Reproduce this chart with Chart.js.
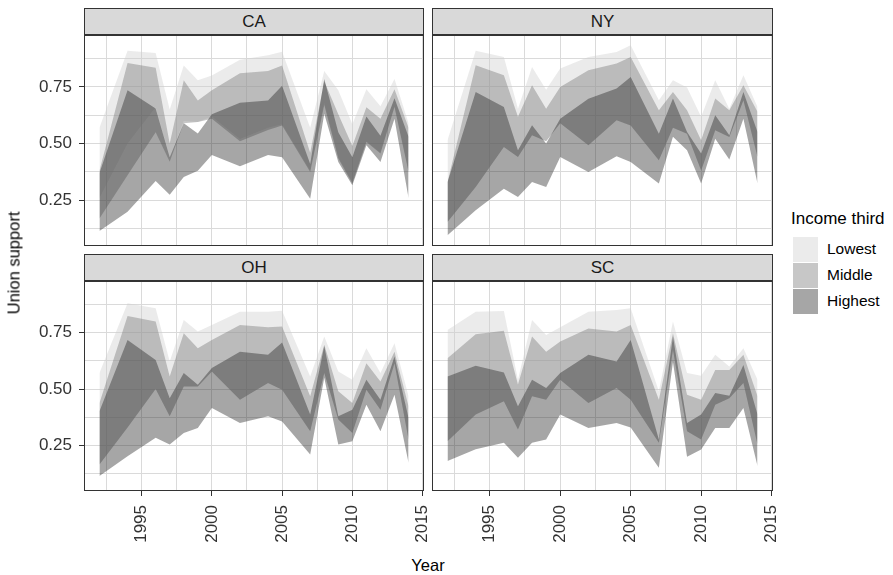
<!DOCTYPE html>
<html>
<head>
<meta charset="utf-8">
<script src="https://cdn.jsdelivr.net/npm/chart.js@4.4.1/dist/chart.umd.min.js"></script>
<style>
  html, body { margin: 0; padding: 0; background: #fff; }
  #fig { position: relative; width: 893px; height: 575px; overflow: hidden;
         font-family: "Liberation Sans", Arial, sans-serif; color: #000; }
  #fig canvas { position: absolute; }
  .strip { position: absolute; box-sizing: border-box; background: #d9d9d9;
           border: 1px solid #333; font-size: 17px; color: #1a1a1a;
           text-align: center; line-height: 25px; height: 27px; }
  .title { position: absolute; font-size: 16.5px; white-space: nowrap; color: #000; }
  .key { position: absolute; width: 25px; height: 25px; }
  .klab { position: absolute; font-size: 15.5px; white-space: nowrap; line-height: 18px; }
</style>
</head>
<body>
<div id="fig">
  <canvas id="pCA" width="440" height="211" style="left:0;top:35px"></canvas>
  <canvas id="pNY" width="364" height="211" style="left:424px;top:35px"></canvas>
  <canvas id="pOH" width="440" height="270" style="left:0;top:281px"></canvas>
  <canvas id="pSC" width="364" height="270" style="left:424px;top:281px"></canvas>

  <div class="strip" style="left:84px;top:8px;width:340px">CA</div>
  <div class="strip" style="left:432px;top:8px;width:341px">NY</div>
  <div class="strip" style="left:84px;top:254px;width:340px">OH</div>
  <div class="strip" style="left:432px;top:254px;width:341px">SC</div>

  <div class="title" style="left:14px;top:263px;transform:translate(-50%,-50%) rotate(-90deg)">Union support</div>
  <div class="title" style="left:428px;top:565px;transform:translate(-50%,-50%)">Year</div>

  <div class="title" style="left:791px;top:209px;font-size:17px">Income third</div>
  <div class="key" id="kLow" style="left:793px;top:237px"></div>
  <div class="key" id="kMid" style="left:793px;top:263px"></div>
  <div class="key" id="kHigh" style="left:793px;top:289px"></div>
  <div class="klab" style="left:827px;top:240px">Lowest</div>
  <div class="klab" style="left:827px;top:266px">Middle</div>
  <div class="klab" style="left:827px;top:292px">Highest</div>
</div>

<script>
// Survey years
const years = [1992, 1994, 1996, 1997, 1998, 1999, 2000, 2002, 2004, 2005, 2007, 2008, 2009, 2010, 2011, 2012, 2013, 2014];

// California: lower / upper bounds of union support per income third
const caLowestLo  = [0.26, 0.50, 0.66, 0.44, 0.60, 0.595, 0.62, 0.52, 0.57, 0.585, 0.38, 0.68, 0.44, 0.33, 0.51, 0.46, 0.665, 0.38];
const caLowestHi  = [0.57, 0.91, 0.90, 0.65, 0.845, 0.78, 0.80, 0.87, 0.89, 0.905, 0.57, 0.82, 0.735, 0.585, 0.74, 0.665, 0.785, 0.59];
const caMiddleLo  = [0.17, 0.36, 0.55, 0.42, 0.59, 0.595, 0.61, 0.51, 0.56, 0.58, 0.375, 0.67, 0.434, 0.324, 0.507, 0.456, 0.662, 0.375];
const caMiddleHi  = [0.38, 0.855, 0.835, 0.50, 0.78, 0.69, 0.735, 0.81, 0.82, 0.845, 0.46, 0.775, 0.63, 0.49, 0.66, 0.61, 0.74, 0.57];
const caHighestLo = [0.115, 0.20, 0.335, 0.275, 0.353, 0.38, 0.45, 0.40, 0.45, 0.44, 0.257, 0.632, 0.419, 0.316, 0.493, 0.419, 0.61, 0.26];
const caHighestHi = [0.37, 0.735, 0.655, 0.44, 0.59, 0.545, 0.63, 0.68, 0.69, 0.755, 0.41, 0.785, 0.55, 0.44, 0.62, 0.535, 0.70, 0.53];

// New York
const nyLowestLo  = [0.154, 0.309, 0.485, 0.441, 0.537, 0.51, 0.59, 0.493, 0.603, 0.58, 0.427, 0.57, 0.544, 0.382, 0.559, 0.529, 0.691, 0.441];
const nyLowestHi  = [0.515, 0.909, 0.882, 0.654, 0.838, 0.738, 0.831, 0.882, 0.904, 0.934, 0.691, 0.779, 0.747, 0.618, 0.779, 0.654, 0.801, 0.662];
const nyMiddleLo  = [0.154, 0.309, 0.485, 0.441, 0.537, 0.51, 0.59, 0.493, 0.603, 0.58, 0.427, 0.57, 0.544, 0.382, 0.559, 0.529, 0.691, 0.441];
const nyMiddleHi  = [0.33, 0.846, 0.801, 0.618, 0.757, 0.654, 0.75, 0.824, 0.853, 0.882, 0.647, 0.728, 0.647, 0.515, 0.699, 0.647, 0.757, 0.64];
const nyHighestLo = [0.096, 0.206, 0.301, 0.265, 0.331, 0.309, 0.441, 0.375, 0.444, 0.419, 0.324, 0.53, 0.471, 0.324, 0.522, 0.43, 0.61, 0.324];
const nyHighestHi = [0.33, 0.728, 0.662, 0.471, 0.581, 0.50, 0.61, 0.698, 0.743, 0.794, 0.544, 0.699, 0.551, 0.456, 0.625, 0.537, 0.728, 0.551];

// Ohio
const ohLowestLo  = [0.166, 0.33, 0.50, 0.38, 0.512, 0.512, 0.578, 0.453, 0.527, 0.497, 0.313, 0.571, 0.365, 0.306, 0.497, 0.409, 0.615, 0.277];
const ohLowestHi  = [0.571, 0.880, 0.858, 0.622, 0.806, 0.755, 0.784, 0.843, 0.843, 0.847, 0.556, 0.733, 0.578, 0.541, 0.681, 0.571, 0.703, 0.468];
const ohMiddleLo  = [0.166, 0.33, 0.50, 0.38, 0.512, 0.512, 0.578, 0.453, 0.527, 0.497, 0.313, 0.571, 0.365, 0.306, 0.497, 0.409, 0.615, 0.277];
const ohMiddleHi  = [0.438, 0.824, 0.799, 0.556, 0.747, 0.681, 0.718, 0.784, 0.774, 0.777, 0.468, 0.696, 0.49, 0.438, 0.615, 0.534, 0.666, 0.424];
const ohHighestLo = [0.115, 0.203, 0.284, 0.255, 0.306, 0.328, 0.416, 0.350, 0.380, 0.357, 0.210, 0.55, 0.255, 0.269, 0.431, 0.313, 0.475, 0.174];
const ohHighestHi = [0.402, 0.718, 0.629, 0.46, 0.571, 0.519, 0.593, 0.666, 0.652, 0.706, 0.387, 0.691, 0.38, 0.409, 0.541, 0.453, 0.644, 0.372];

// South Carolina
const scLowestLo  = [0.269, 0.387, 0.446, 0.321, 0.468, 0.453, 0.541, 0.438, 0.505, 0.453, 0.262, 0.674, 0.313, 0.277, 0.431, 0.46, 0.527, 0.255];
const scLowestHi  = [0.762, 0.843, 0.846, 0.541, 0.806, 0.74, 0.774, 0.843, 0.85, 0.858, 0.49, 0.799, 0.571, 0.559, 0.652, 0.60, 0.681, 0.541];
const scMiddleLo  = [0.269, 0.387, 0.446, 0.321, 0.468, 0.453, 0.541, 0.438, 0.505, 0.453, 0.262, 0.674, 0.313, 0.277, 0.431, 0.46, 0.527, 0.255];
const scMiddleHi  = [0.637, 0.743, 0.759, 0.52, 0.733, 0.666, 0.711, 0.769, 0.755, 0.784, 0.453, 0.747, 0.475, 0.453, 0.585, 0.585, 0.652, 0.468];
const scHighestLo = [0.181, 0.233, 0.262, 0.196, 0.262, 0.277, 0.387, 0.328, 0.35, 0.33, 0.152, 0.62, 0.20, 0.232, 0.328, 0.328, 0.416, 0.159];
const scHighestHi = [0.556, 0.603, 0.574, 0.424, 0.541, 0.505, 0.571, 0.652, 0.622, 0.718, 0.277, 0.733, 0.35, 0.387, 0.483, 0.471, 0.607, 0.387];

// Axis breaks (major ones are labelled)
const xBreaks = [1992.5, 1995, 1997.5, 2000, 2002.5, 2005, 2007.5, 2010, 2012.5, 2015];
const xLabelled = [1995, 2000, 2005, 2010, 2015];
const yBreaks = [0.125, 0.25, 0.375, 0.5, 0.625, 0.75, 0.875];
const yLabelled = [0.25, 0.5, 0.75];

const groupFill = {
  Lowest:  'rgba(204,204,204,0.4)',
  Middle:  'rgba(115,115,115,0.4)',
  Highest: 'rgba(32,32,32,0.4)'
};

document.getElementById('kLow').style.background = groupFill.Lowest;
document.getElementById('kMid').style.background = groupFill.Middle;
document.getElementById('kHigh').style.background = groupFill.Highest;

const FONT = '"Liberation Sans", Arial, sans-serif';
const GRID = '#dadada';
const TICK_SIZE = 17;

// Border around each panel, drawn above the ribbons
const panelFrame = {
  id: 'panelFrame',
  afterDatasetsDraw(chart) {
    const a = chart.chartArea, c = chart.ctx;
    c.save();
    c.strokeStyle = '#333';
    c.lineWidth = 1;
    c.strokeRect(a.left + 0.5, a.top + 0.5, a.right - a.left - 1, a.bottom - a.top - 1);
    c.restore();
  }
};

function ribbon(lo, hi, fill) {
  const pts = arr => years.map((x, i) => ({ x: x, y: arr[i] }));
  const base = { pointRadius: 0, borderWidth: 0, borderColor: 'rgba(0,0,0,0)', tension: 0 };
  return [
    Object.assign({ data: pts(lo), fill: false }, base),
    Object.assign({ data: pts(hi), fill: '-1', backgroundColor: fill }, base)
  ];
}

function panel(id, bands, showX, showY, yWidth, rightPad) {
  // Highest first so it is painted last (on top)
  const datasets = []
    .concat(ribbon(bands.Highest[0], bands.Highest[1], groupFill.Highest))
    .concat(ribbon(bands.Middle[0], bands.Middle[1], groupFill.Middle))
    .concat(ribbon(bands.Lowest[0], bands.Lowest[1], groupFill.Lowest));

  new Chart(document.getElementById(id), {
    type: 'line',
    data: { datasets: datasets },
    plugins: [panelFrame],
    options: {
      responsive: false,
      animation: false,
      devicePixelRatio: 1,
      layout: { padding: { left: 0, right: rightPad, top: 0, bottom: 0 } },
      plugins: { legend: { display: false }, tooltip: { enabled: false } },
      scales: {
        x: {
          type: 'linear', min: 1990.9, max: 2015.1,
          afterBuildTicks: s => { s.ticks = xBreaks.map(v => ({ value: v })); },
          afterFit: s => { s.height = showX ? 60 : 0; s.paddingLeft = 0; s.paddingRight = 0; },
          border: { display: false },
          grid: {
            color: GRID, lineWidth: 1, drawTicks: showX, tickLength: 5,
            tickColor: ctx => (ctx.tick && xLabelled.includes(ctx.tick.value)) ? '#333' : 'rgba(0,0,0,0)'
          },
          ticks: {
            display: showX, autoSkip: false, minRotation: 90, maxRotation: 90, padding: 9,
            color: '#333', font: { family: FONT, size: TICK_SIZE },
            callback: v => xLabelled.includes(v) ? String(v) : ''
          }
        },
        y: {
          type: 'linear', min: 0.0485, max: 0.979,
          afterBuildTicks: s => { s.ticks = yBreaks.map(v => ({ value: v })); },
          afterFit: s => { s.width = yWidth; s.paddingTop = 0; s.paddingBottom = 0; },
          border: { display: false },
          grid: {
            color: GRID, lineWidth: 1, drawTicks: showY, tickLength: 5,
            tickColor: ctx => (ctx.tick && yLabelled.includes(ctx.tick.value)) ? '#333' : 'rgba(0,0,0,0)'
          },
          ticks: {
            display: showY, autoSkip: false, padding: 7,
            color: '#333', font: { family: FONT, size: TICK_SIZE },
            callback: v => yLabelled.includes(v) ? v.toFixed(2) : ''
          }
        }
      }
    }
  });
}

panel('pCA', { Lowest: [caLowestLo, caLowestHi], Middle: [caMiddleLo, caMiddleHi], Highest: [caHighestLo, caHighestHi] }, false, true, 84, 16);
panel('pNY', { Lowest: [nyLowestLo, nyLowestHi], Middle: [nyMiddleLo, nyMiddleHi], Highest: [nyHighestLo, nyHighestHi] }, false, false, 8, 15);
panel('pOH', { Lowest: [ohLowestLo, ohLowestHi], Middle: [ohMiddleLo, ohMiddleHi], Highest: [ohHighestLo, ohHighestHi] }, true, true, 84, 16);
panel('pSC', { Lowest: [scLowestLo, scLowestHi], Middle: [scMiddleLo, scMiddleHi], Highest: [scHighestLo, scHighestHi] }, true, false, 8, 15);
</script>
</body>
</html>
